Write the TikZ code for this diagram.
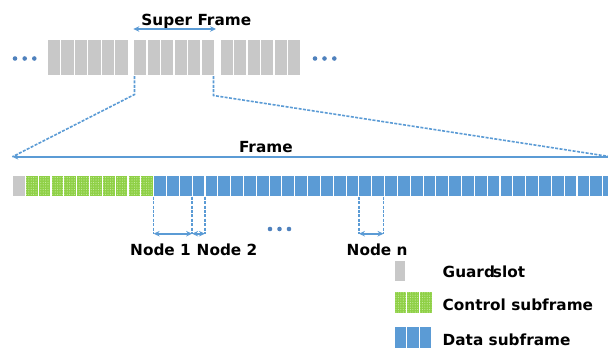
\documentclass[tikz,border=0pt]{standalone}
\usepackage{fontspec}
\setmainfont{DejaVu Sans}
\usetikzlibrary{patterns,arrows.meta}
\definecolor{cellgray}{HTML}{C8C8C8}
\definecolor{ctrlgreen}{HTML}{8FD046}
\definecolor{dotgreen}{HTML}{C9EDA4}
\definecolor{datablue}{HTML}{5B9BD5}
\definecolor{linkblue}{HTML}{5B9BD5}
\definecolor{dotblue}{HTML}{4F81BD}

% fine dot texture for the control slots
\pgfdeclarepatternformonly{finedots}{\pgfpoint{-0.6pt}{-0.6pt}}{\pgfpoint{0.6pt}{0.6pt}}{\pgfpoint{2.4pt}{2.4pt}}{%
  \pgfpathcircle{\pgfpointorigin}{0.55pt}\pgfusepath{fill}}

\begin{document}
\begin{tikzpicture}[x=1pt,y=-1pt,
  cellbase/.style={draw=white, line width=1.1pt, inner sep=0pt, outer sep=0pt, anchor=north west},
  topcell/.style={cellbase, fill=cellgray, minimum width=13.5pt, minimum height=36.7pt},
  guardcell/.style={cellbase, fill=cellgray, minimum width=12.83pt, minimum height=21.7pt},
  ctrlcell/.style={cellbase, preaction={fill=ctrlgreen}, pattern=finedots, pattern color=dotgreen,
                   minimum width=12.83pt, minimum height=21.7pt},
  datacell/.style={cellbase, fill=datablue, minimum width=12.83pt, minimum height=21.7pt},
  label/.style={inner sep=0pt, anchor=base west, font=\fontsize{15.3}{18}\selectfont\bfseries},
  linkarrow/.style={linkblue, line width=2pt, {Stealth[length=6pt,width=5.5pt]}-{Stealth[length=6pt,width=5.5pt]}},
  dashedlink/.style={linkblue, line width=1.6pt, dash pattern=on 3pt off 1.4pt},
  ellipsisdot/.style={circle, fill=dotblue, inner sep=0pt, minimum size=4.6pt}]

\useasboundingbox (0,0) rectangle (608,348);
\clip (0,0) rectangle (608,348);

% super frame: three groups of six slots
\foreach \g/\gx in {1/47.3, 2/133.5, 3/220} {
  \foreach \i in {1,...,6} {
    \node[topcell] (sf\g-\i) at ({\gx+(\i-1)*13.5}, 39.3) {};
  }
}
\foreach \n/\px in {l1/15, l2/24.7, l3/34.3, r1/315, r2/324.5, r3/334.3}
  \node[ellipsisdot] (dot-\n) at (\px, 58.5) {};

\node[label] (sf-label) at (141.2, 25) {Super Frame};
\coordinate (sf-a) at (133.3, 29);
\coordinate (sf-b) at (216, 29);
\draw[linkarrow] (sf-a) -- (sf-b);

% expanded frame
\node[guardcell] (fg) at (12.5, 175) {};
\foreach \i in {1,...,10}
  \node[ctrlcell] (fc-\i) at ({25.33+(\i-1)*12.83}, 175) {};
\foreach \i in {1,...,36}
  \node[datacell] (fd-\i) at ({153.63+(\i-1)*12.83}, 175) {};

\coordinate (frame-left) at (12.3, 156.8);
\coordinate (frame-right) at (630, 156.8);
\coordinate (frame-end) at (608, 156.3);
\draw[linkarrow] (frame-left) -- (frame-right);
\node[label] (frame-label) at (238.8, 152.7) {Frame};

% zoom lines from the super frame to the frame
\draw[dashedlink] (sf2-1.south west) ++(1,0) coordinate (zl-top) -- ++(0,18.5) coordinate (zl-bend) -- (frame-left);
\draw[dashedlink] (sf2-6.south east) ++(-1,0) coordinate (zr-top) -- ++(0,19.5) coordinate (zr-bend) -- (frame-end);

% node spans
\draw[dashedlink] (fd-1.south west) -- ++(0,37) coordinate (n1a);
\draw[dashedlink] (fd-3.south east) -- ++(0,37) coordinate (n1b);
\draw[dashedlink] (fd-4.south east) -- ++(0,37) coordinate (n2b);
\draw[dashedlink] (fd-17.south west) -- ++(0,37) coordinate (nna);
\draw[dashedlink] (fd-18.south east) ++(-1,0) -- ++(0,37) coordinate (nnb);
\draw[linkarrow] (n1a) -- (n1b);
\draw[linkarrow] (n1b) -- (n2b);
\draw[linkarrow] (nna) -- (nnb);

\node[label] (node1) at (130, 255.7) {Node 1};
\node[label] (node2) at (196.5, 255.7) {Node 2};
\node[label] (noden) at (346.5, 255.7) {Node n};
\foreach \n/\px in {m1/270, m2/279.5, m3/289}
  \node[ellipsisdot] (dot-\n) at (\px, 229) {};

% legend
\node[cellbase, fill=cellgray, minimum width=11.7pt, minimum height=21.7pt] (lg-guard) at (394, 260) {};
\foreach \i in {1,2,3}
  \node[ctrlcell, minimum width=12.9pt, minimum height=22.3pt] (lg-ctrl-\i) at ({394+(\i-1)*12.9}, 291.7) {};
\foreach \i in {1,2,3}
  \node[datacell, minimum width=12.6pt, minimum height=23pt] (lg-data-\i) at ({394+(\i-1)*12.6}, 326.7) {};

\node[label] (lg-guard-text) at (442.5, 277.3) {Guard\kern-2pt slot};
\node[label] (lg-ctrl-text) at (442.5, 310) {Control subframe};
\node[label] (lg-data-text) at (442.5, 345) {Data subframe};
\end{tikzpicture}
\end{document}
